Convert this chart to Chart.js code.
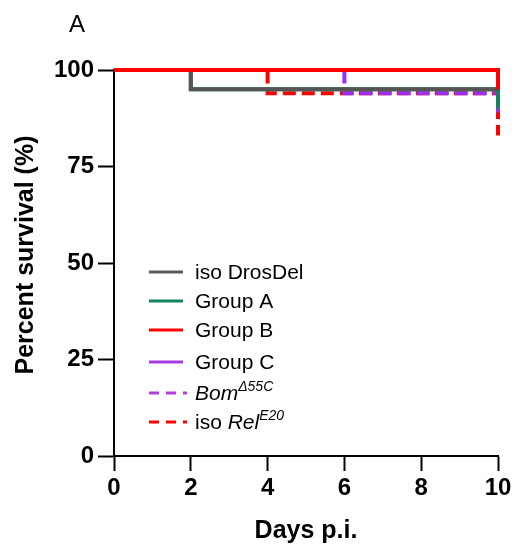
<!DOCTYPE html>
<html><head><meta charset="utf-8">
<script src="https://cdn.jsdelivr.net/npm/chart.js@4.4.1/dist/chart.umd.min.js"></script>
<style>html,body{margin:0;padding:0;background:#fff}#wrap{width:516px;height:557px;position:relative}</style>
</head><body><div id="wrap"><canvas id="c"></canvas></div>
<script>
// ---- data ----
const xTicks = [0, 2, 4, 6, 8, 10];
const yTicks = [0, 25, 50, 75, 100];
const isoDrosDelDays = [0, 2, 10];
const isoDrosDelSurv = [100, 95, 95];
const groupADays = [0, 2, 10, 10];
const groupASurv = [100, 95, 95, 90];
const groupBDays = [0, 10, 10];
const groupBSurv = [100, 100, 95];
const groupCDays = [0, 10, 10];
const groupCSurv = [100, 100, 95];
const bomDays = [0, 6, 10, 10];
const bomSurv = [100, 94, 94, 89];
const relDays = [0, 4, 10, 10];
const relSurv = [100, 94, 94, 83];

const pts = (xs, ys) => xs.map((x, i) => ({x: x, y: ys[i]}));

const legendItems = [
  {parts: [['iso DrosDel', 'n']], color: '#5a5a5a', dash: [], end: 183},
  {parts: [['Group A', 'n']], color: '#16845a', dash: [], end: 183},
  {parts: [['Group B', 'n']], color: '#ff0000', dash: [], end: 183},
  {parts: [['Group C', 'n']], color: '#a63be0', dash: [], end: 183},
  {parts: [['Bom', 'i'], ['\u039455C', 'si']], color: '#b13fe0', dash: [10, 7], end: 187},
  {parts: [['iso ', 'n'], ['Rel', 'i'], ['E20', 'si']], color: '#ff0000', dash: [10, 7], end: 187}
];

const FONT = '"Liberation Sans", Arial, sans-serif';

const extras = {
  id: 'extras',
  afterDraw(chart) {
    const ctx = chart.ctx;
    ctx.save();
    // panel letter
    ctx.fillStyle = '#000';
    ctx.font = '24px ' + FONT;
    ctx.textBaseline = 'alphabetic';
    ctx.textAlign = 'left';
    ctx.fillText('A', 69, 32);
    // y title
    ctx.save();
    ctx.translate(26, 255);
    ctx.rotate(-Math.PI / 2);
    ctx.font = 'bold 25px ' + FONT;
    ctx.textAlign = 'center';
    ctx.textBaseline = 'middle';
    ctx.fillText('Percent survival (%)', 0, 0);
    ctx.restore();
    // legend
    const rows = [272, 301, 330, 362, 393, 422];
    legendItems.forEach((it, i) => {
      const y = rows[i];
      ctx.strokeStyle = it.color;
      ctx.lineWidth = 3;
      ctx.setLineDash(it.dash);
      ctx.beginPath();
      ctx.moveTo(149, y);
      ctx.lineTo(it.end, y);
      ctx.stroke();
      ctx.setLineDash([]);
      let x = 195;
      ctx.fillStyle = '#000';
      ctx.textAlign = 'left';
      ctx.textBaseline = 'alphabetic';
      it.parts.forEach(([t, s]) => {
        let yy = y + 7;
        if (s === 'n') ctx.font = '21px ' + FONT;
        else if (s === 'i') ctx.font = 'italic 21px ' + FONT;
        else { ctx.font = 'italic 14px ' + FONT; yy = y - 2; }
        ctx.fillText(t, x, yy);
        x += ctx.measureText(t).width;
      });
    });
    ctx.restore();
  }
};

const common = {fill: false, borderWidth: 4, pointRadius: 0, stepped: 'before', clip: false, tension: 0};

new Chart(document.getElementById('c'), {
  type: 'line',
  data: {
    datasets: [
      Object.assign({label: 'Group B', data: pts(groupBDays, groupBSurv), borderColor: '#ff0000', order: 0}, common),
      Object.assign({label: 'iso DrosDel', data: pts(isoDrosDelDays, isoDrosDelSurv), borderColor: '#555555', order: 1}, common),
      Object.assign({label: 'Group A', data: pts(groupADays, groupASurv), borderColor: '#16845a', order: 2}, common),
      Object.assign({label: 'Group C', data: pts(groupCDays, groupCSurv), borderColor: '#a63be0', order: 3}, common),
      Object.assign({label: 'BomΔ55C', data: pts(bomDays, bomSurv), borderColor: '#9b30f0', borderDash: [13, 6], borderDashOffset: 16, order: 4}, common),
      Object.assign({label: 'iso RelE20', data: pts(relDays, relSurv), borderColor: '#ff0000', borderDash: [13, 6], borderDashOffset: 17, order: 5}, common)
    ]
  },
  options: {
    responsive: true,
    maintainAspectRatio: false,
    animation: false,
    devicePixelRatio: 1,
    layout: {padding: {top: 70, right: 18, left: 0, bottom: 0}},
    plugins: {legend: {display: false}, tooltip: {enabled: false}},
    scales: {
      x: {
        type: 'linear', min: 0, max: 10,
        afterBuildTicks: s => { s.ticks = xTicks.map(v => ({value: v})); },
        afterFit: s => { s.height = 101; },
        grid: {drawOnChartArea: false, drawTicks: true, tickLength: 15, tickWidth: 2, tickColor: '#000'},
        border: {display: true, color: '#000', width: 2},
        ticks: {color: '#000', padding: 3, font: {family: FONT, size: 24, weight: 'bold'}, maxRotation: 0},
        title: {display: true, text: 'Days p.i.', color: '#000', padding: {top: 0, bottom: 11}, font: {family: FONT, size: 25, weight: 'bold'}}
      },
      y: {
        type: 'linear', min: 0, max: 100,
        afterBuildTicks: s => { s.ticks = yTicks.map(v => ({value: v})); },
        afterFit: s => { s.width = 114; },
        grid: {drawOnChartArea: false, drawTicks: true, tickLength: 16, tickWidth: 2, tickColor: '#000'},
        border: {display: true, color: '#000', width: 2},
        ticks: {color: '#000', padding: 4, font: {family: FONT, size: 24, weight: 'bold'}}
      }
    }
  },
  plugins: [extras]
});
</script>
</body></html>
